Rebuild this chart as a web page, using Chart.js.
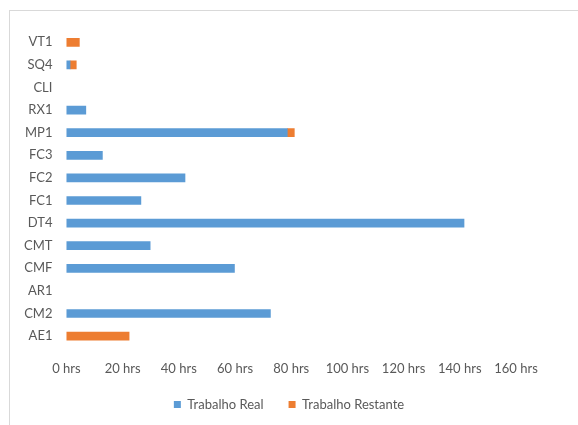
<!DOCTYPE html>
<html lang="pt">
<head>
    <meta charset="UTF-8">
    <title>Horas por projeto</title>
    <script src="https://cdn.jsdelivr.net/npm/chart.js"></script>
    <style>
        body {
            margin: 0;
            padding: 0;
            background: #fff;
            font-family: 'Lato', sans-serif;
        }
        .frame {
            position: absolute;
            left: 9px;
            top: 10px;
            width: 600px;
            height: 440px;
            border-top: 1px solid #d9d9d9;
            border-left: 1px solid #d9d9d9;
        }
        .chart-box {
            position: relative;
            width: 578px;
            height: 425px;
        }
    </style>
</head>
<body>
    <div class="frame"></div>
    <div class="chart-box">
        <canvas id="hoursChart"></canvas>
    </div>

    <script>
        // null = no hours booked for that project
        var projects = ['VT1', 'SQ4', 'CLI', 'RX1', 'MP1', 'FC3', 'FC2', 'FC1', 'DT4', 'CMT', 'CMF', 'AR1', 'CM2', 'AE1'];
        var realHours = [null, 1.3, null, 6.9, 78.6, 12.8, 42.2, 26.5, 141.5, 29.8, 59.8, null, 72.6, null];
        var remainingHours = [4.6, 2.2, null, null, 2.5, null, null, null, null, null, null, null, null, 22.3];
        var hourTicks = [0, 20, 40, 60, 80, 100, 120, 140, 160];

        var textColor = '#595959';

        var ctx = document.getElementById('hoursChart').getContext('2d');
        var hoursChart = new Chart(ctx, {
            type: 'bar',
            data: {
                labels: projects,
                datasets: [{
                    label: 'Trabalho Real',
                    data: realHours,
                    backgroundColor: '#5B9BD5',
                    barThickness: 8
                }, {
                    label: 'Trabalho Restante',
                    data: remainingHours,
                    backgroundColor: '#ED7D31',
                    barThickness: 8
                }]
            },
            options: {
                indexAxis: 'y',
                responsive: true,
                maintainAspectRatio: false,
                animation: false,
                layout: {
                    padding: { top: 31, left: 10, right: 10, bottom: 4 }
                },
                scales: {
                    x: {
                        stacked: true,
                        min: hourTicks[0],
                        max: hourTicks[hourTicks.length - 1],
                        afterBuildTicks: function (scale) {
                            scale.ticks = hourTicks.map(function (v) { return { value: v }; });
                        },
                        afterFit: function (scale) {
                            scale.height -= 18;
                        },
                        grid: { display: false, drawTicks: false },
                        border: { display: false },
                        ticks: {
                            padding: 14,
                            color: textColor,
                            font: { family: 'Lato', size: 13 },
                            maxRotation: 0,
                            callback: function (value) { return value + ' hrs'; }
                        }
                    },
                    y: {
                        stacked: true,
                        grid: { display: false, drawTicks: false },
                        border: { display: false },
                        ticks: {
                            padding: 14,
                            color: textColor,
                            font: { family: 'Lato', size: 13 }
                        }
                    },
                    // empty right-hand axis keeps the plot off the right edge
                    yRight: {
                        type: 'category',
                        position: 'right',
                        labels: projects,
                        grid: { display: false, drawTicks: false },
                        border: { display: false },
                        ticks: { display: false },
                        afterFit: function (scale) {
                            scale.width = 52;
                        }
                    }
                },
                plugins: {
                    legend: {
                        position: 'bottom',
                        labels: {
                            boxWidth: 7,
                            boxHeight: 7,
                            padding: 25,
                            color: textColor,
                            font: { family: 'Lato', size: 13 }
                        }
                    },
                    tooltip: { enabled: false }
                }
            }
        });
    </script>
</body>
</html>
